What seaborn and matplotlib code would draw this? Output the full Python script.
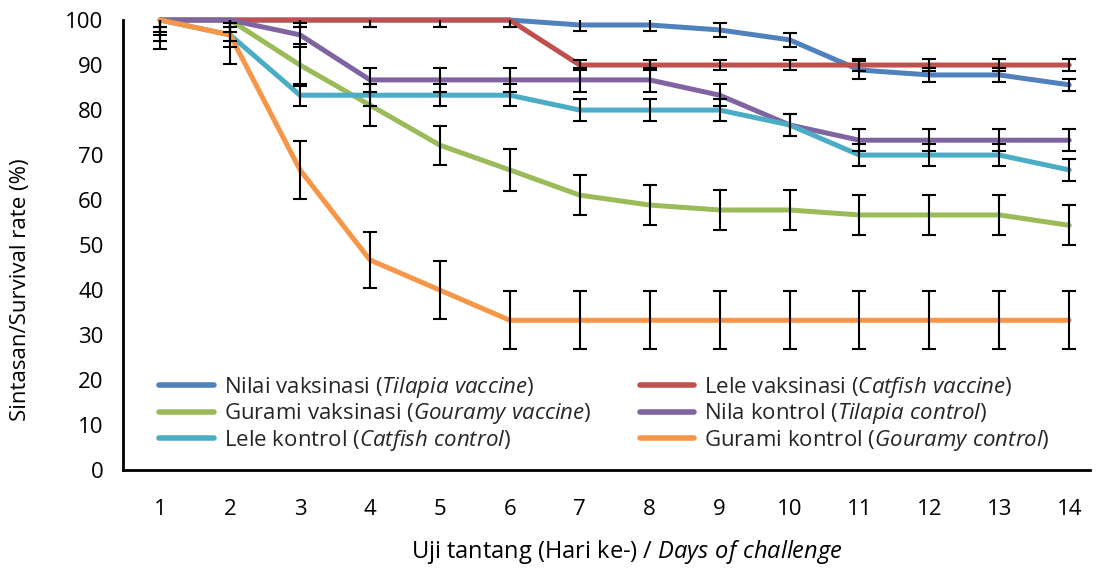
import numpy as np
import pandas as pd
import matplotlib
matplotlib.use("Agg")
import matplotlib.pyplot as plt
import matplotlib.lines as mlines
import seaborn as sns

# days of challenge
days = list(range(1, 15))

# survival rate (%) per group
nila_vaks = [100, 100, 100, 100, 100, 100, 98.9, 98.9, 97.8, 95.6, 88.9, 87.8, 87.8, 85.6]
lele_vaks = [100, 100, 100, 100, 100, 100, 90, 90, 90, 90, 90, 90, 90, 90]
gurami_vaks = [100, 100, 90, 81.1, 72.2, 66.7, 61.1, 58.9, 57.8, 57.8, 56.7, 56.7, 56.7, 54.4]
nila_kontrol = [100, 100, 96.7, 86.7, 86.7, 86.7, 86.7, 86.7, 83.3, 76.7, 73.3, 73.3, 73.3, 73.3]
lele_kontrol = [100, 96.7, 83.3, 83.3, 83.3, 83.3, 80, 80, 80, 76.7, 70, 70, 70, 66.7]
gurami_kontrol = [100, 96.7, 66.7, 46.7, 40, 33.3, 33.3, 33.3, 33.3, 33.3, 33.3, 33.3, 33.3, 33.3]

# error bar half-lengths
nila_vaks_err = [1.6, 1.6, 1.6, 1.6, 1.6, 1.6, 1.3, 1.3, 1.5, 1.5, 2.0, 1.5, 1.5, 1.4]
lele_vaks_err = [1.6, 1.6, 1.6, 1.6, 1.6, 1.6, 1.2, 1.2, 1.2, 1.2, 1.3, 1.3, 1.3, 1.3]
gurami_vaks_err = [4.6, 4.6, 4.6, 4.7, 4.3, 4.6, 4.4, 4.5, 4.5, 4.5, 4.4, 4.4, 4.4, 4.4]
nila_kontrol_err = [2.6, 2.6, 2.6, 2.6, 2.6, 2.6, 2.6, 2.6, 2.5, 2.5, 2.5, 2.5, 2.5, 2.5]
lele_kontrol_err = [3.3, 2.6, 2.5, 2.5, 2.5, 2.5, 2.5, 2.5, 2.5, 2.5, 2.5, 2.5, 2.5, 2.5]
gurami_kontrol_err = [6.5, 6.5, 6.4, 6.3, 6.4, 6.4, 6.4, 6.4, 6.4, 6.4, 6.4, 6.4, 6.4, 6.4]

labels = [
    r"Nilai vaksinasi ($\it{Tilapia\ vaccine}$)",
    r"Lele vaksinasi ($\it{Catfish\ vaccine}$)",
    r"Gurami vaksinasi ($\it{Gouramy\ vaccine}$)",
    r"Nila kontrol ($\it{Tilapia\ control}$)",
    r"Lele kontrol ($\it{Catfish\ control}$)",
    r"Gurami kontrol ($\it{Gouramy\ control}$)",
]
series = [nila_vaks, lele_vaks, gurami_vaks, nila_kontrol, lele_kontrol, gurami_kontrol]
errors = [nila_vaks_err, lele_vaks_err, gurami_vaks_err, nila_kontrol_err, lele_kontrol_err, gurami_kontrol_err]
colors = ["#4F81BD", "#C0504D", "#9BBB59", "#8064A2", "#4BACC6", "#F79646"]

sns.set_theme(style="white")
plt.rcParams["font.family"] = ["Open Sans", "DejaVu Sans"]
plt.rcParams["mathtext.fontset"] = "custom"
plt.rcParams["mathtext.rm"] = "Open Sans"
plt.rcParams["mathtext.it"] = "Open Sans:italic"

# long-form table for seaborn
df = pd.DataFrame({
    "day": np.tile(days, len(series)),
    "survival": np.concatenate(series),
    "group": np.repeat(labels, len(days)),
})

fig = plt.figure(figsize=(10.99, 5.72), dpi=100)
ax = fig.add_axes([0.112, 0.178, 0.880, 0.787])

sns.lineplot(data=df, x="day", y="survival", hue="group", hue_order=labels,
             palette=colors, linewidth=3.6, ax=ax, legend=False,
             clip_on=False, solid_capstyle="round")

for vals, err in zip(series, errors):
    ax.errorbar(days, vals, yerr=err, fmt="none", ecolor="black",
                elinewidth=1.5, capsize=5, capthick=1.5, zorder=5)

ax.set_xlim(0.47, 14.3)
ax.set_ylim(0, 100)
ax.set_xticks(days)
ax.set_yticks(range(0, 101, 10))
ax.tick_params(axis="both", length=0, labelsize=16, colors="black")
ax.tick_params(axis="x", pad=20.5)
ax.tick_params(axis="y", pad=14)

for side in ["top", "right"]:
    ax.spines[side].set_visible(False)
for side in ["left", "bottom"]:
    ax.spines[side].set_color("black")
    ax.spines[side].set_linewidth(2)

ax.set_xlabel(r"Uji tantang (Hari ke-) / $\it{Days\ of\ challenge}$", fontsize=17, color="black")
ax.set_ylabel("Sintasan/Survival rate (%)", fontsize=16, color="black")
ax.xaxis.set_label_coords(0.521, -0.151)
ax.yaxis.set_label_coords(-0.095, 0.402)

# legend: two columns, rows filled left to right
order = [0, 2, 4, 1, 3, 5]
handles = [mlines.Line2D([], [], color=colors[i], linewidth=4, solid_capstyle="round") for i in order]
ax.legend(handles, [labels[i] for i in order], ncol=2, loc="upper left",
          bbox_to_anchor=(0.028, 0.232), frameon=False, fontsize=16,
          handlelength=2.45, handletextpad=0.45, columnspacing=2.2,
          labelspacing=0.08, borderaxespad=0)

plt.savefig("out.png", dpi=100)
